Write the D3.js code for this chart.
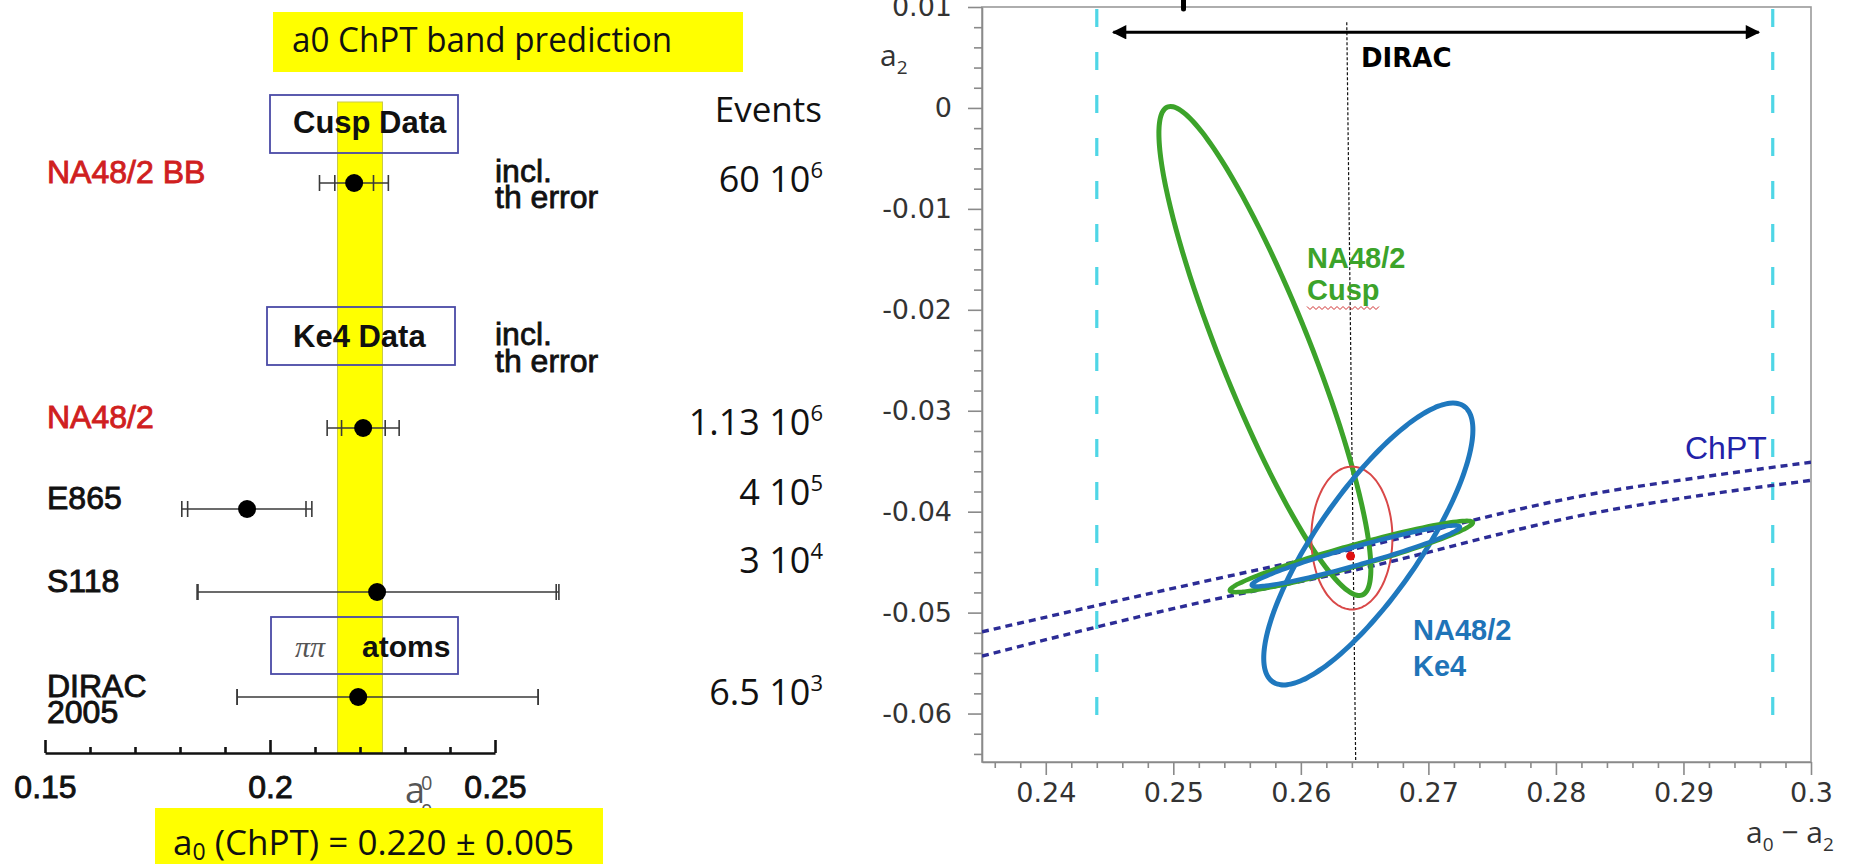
<!DOCTYPE html>
<html><head><meta charset="utf-8">
<script src="https://cdn.jsdelivr.net/npm/d3@7"></script>
<style>body{margin:0;background:#fff} svg{display:block}</style>
</head><body>
<svg id="chart" width="1876" height="864"></svg>
<script>
// ================= DATA : left panel (a0 measurements) =================
const experiments   = ["NA48/2 BB", "NA48/2", "E865", "S118", "DIRAC 2005"];
const a0Values      = [0.2187, 0.2207, 0.1949, 0.2238, 0.2196];
const statErrLo     = [0.0043, 0.0048, 0.0132, 0.0398, 0.0269];
const statErrHi     = [0.0043, 0.0049, 0.0131, 0.0398, 0.0400];
const totErrLo      = [0.0077, 0.0080, 0.0145, 0.0400, 0.0269];
const totErrHi      = [0.0076, 0.0080, 0.0144, 0.0404, 0.0400];
const labelColors   = ["red", "red", "black", "black", "black"];
const eventsMantissa = ["60", "1.13", "4", "3", "6.5"];
const eventsExponent = ["6", "6", "5", "4", "3"];
const sections      = ["Cusp Data", "Ke4 Data", "atoms"];
const chptA0 = 0.220, chptA0Err = 0.005;
const leftMajorTicks = [0.15, 0.2, 0.25];
const leftMinorTicks = [0.16, 0.17, 0.18, 0.19, 0.21, 0.22, 0.23, 0.24];

// ================= DATA : right panel (a0-a2 , a2 plane) =================
const rightXTicks = [0.24, 0.25, 0.26, 0.27, 0.28, 0.29, 0.3];
const rightYTicks = [0.01, 0, -0.01, -0.02, -0.03, -0.04, -0.05, -0.06];
const ellipseNames = ["NA48/2 Cusp", "Combined", "NA48/2 Ke4", "Cusp + ChPT", "Ke4 + ChPT"];
const ellipseCx  = [0.25718, 0.26400, 0.26529, 0.26396, 0.26431];
const ellipseCy  = [-0.02408, -0.04261, -0.04320, -0.04444, -0.04439];
const ellipseSx  = [0.00831, 0.00318, 0.00820, 0.00953, 0.00816];
const ellipseSy  = [0.02423, 0.00708, 0.01396, 0.00353, 0.00302];
const ellipseRho = [-0.89, 0.0, 0.81, 0.95, 0.95];
const bestFit = [0.2639, -0.0444];
const chptUpperX = [0.2350, 0.2521, 0.2638, 0.2835, 0.2913, 0.3000];
const chptUpperY = [-0.0519, -0.0470, -0.0438, -0.0381, -0.0366, -0.0351];
const chptLowerX = [0.2350, 0.2521, 0.2638, 0.2835, 0.2913, 0.3000];
const chptLowerY = [-0.0543, -0.0490, -0.0459, -0.0400, -0.0384, -0.0369];
const diracBand  = [0.2440, 0.2970];
const diracArrow = [0.2453, 0.2959];
const diracArrowY = 0.0075;
const centralLineX = [0.2636, 0.2643];

// ================= LAYOUT / STYLE =================
const svg = d3.select("#chart");
const SANS = "'Liberation Sans', Arial, sans-serif";
const ROUND = "'Open Sans', sans-serif";
const DV = "'DejaVu Sans', sans-serif";

// ---------- LEFT PANEL ----------
const xL = d3.scaleLinear().domain([0.15, 0.25]).range([45, 495]);
const axisYL = 753, bandTop = 102;
const rowY = d3.scaleOrdinal().domain(experiments).range([183, 428, 509, 592, 697]);
const eventsY = d3.scaleOrdinal().domain(experiments).range([192, 435, 505, 573, 705]);
const sectionBox = d3.scaleOrdinal().domain(sections)
  .range([{x:270,y:95,w:188,h:58}, {x:267,y:307,w:188,h:58}, {x:271,y:617,w:187,h:57}]);

const L = svg.append("g");

// top yellow box
L.append("rect").attr("x",273).attr("y",12).attr("width",470).attr("height",60).attr("fill","#ffff00");
L.append("text").attr("x",292).attr("y",52).attr("font-family",ROUND).attr("font-size",34)
  .attr("textLength",380).attr("lengthAdjust","spacingAndGlyphs").attr("fill","#111")
  .text("a0 ChPT band prediction");

// ChPT band
L.append("rect")
  .attr("x", xL(chptA0 - chptA0Err)).attr("y", bandTop)
  .attr("width", xL(chptA0 + chptA0Err) - xL(chptA0 - chptA0Err))
  .attr("height", axisYL - bandTop)
  .attr("fill", "#ffff00").attr("stroke", "#c9c94a").attr("stroke-width", 1);

// section boxes
sections.forEach(s => {
  const b = sectionBox(s);
  L.append("rect").attr("x",b.x).attr("y",b.y).attr("width",b.w).attr("height",b.h)
    .attr("fill","none").attr("stroke","#4a4aa6").attr("stroke-width",1.8);
});
L.append("text").attr("x",293).attr("y",133).attr("font-family",SANS).attr("font-weight","bold")
  .attr("font-size",31).attr("fill","#111").text("Cusp Data");
L.append("text").attr("x",293).attr("y",347).attr("font-family",SANS).attr("font-weight","bold")
  .attr("font-size",31).attr("fill","#111").text("Ke4 Data");
L.append("text").attr("x",295).attr("y",657).attr("font-family","'Liberation Serif', serif").attr("font-style","italic")
  .attr("font-size",30).attr("fill","#555").text("ππ");
L.append("text").attr("x",362).attr("y",657).attr("font-family",SANS).attr("font-weight","bold")
  .attr("font-size",30).attr("fill","#111").text("atoms");

// experiment labels
experiments.forEach((name, i) => {
  const col = labelColors[i] === "red" ? "#d01f1f" : "#111";
  const t = L.append("text").attr("x",47).attr("y",rowY(name)).attr("font-family",SANS)
    .attr("font-size",32).attr("fill", col).attr("stroke", col).attr("stroke-width", 0.9);
  if (name === "DIRAC 2005") {
    t.append("tspan").attr("x",47).text("DIRAC");
    t.append("tspan").attr("x",47).attr("dy",26).text("2005");
  } else t.text(name);
});

// incl. th error notes
[[182,208],[345,372]].forEach(([y1,y2]) => {
  L.append("text").attr("x",495).attr("y",y1).attr("font-family",SANS).attr("font-size",32)
    .attr("fill","#111").attr("stroke","#111").attr("stroke-width",0.8).text("incl.");
  L.append("text").attr("x",495).attr("y",y2).attr("font-family",SANS).attr("font-size",32)
    .attr("fill","#111").attr("stroke","#111").attr("stroke-width",0.8).text("th error");
});

// error bars and points
const eb = L.append("g").attr("stroke","#3a3a3a").attr("stroke-width",1.6).attr("fill","none");
experiments.forEach((name, i) => {
  const y = rowY(name), v = a0Values[i];
  eb.append("line").attr("x1",xL(v - totErrLo[i])).attr("x2",xL(v + totErrHi[i])).attr("y1",y).attr("y2",y);
  [v - totErrLo[i], v - statErrLo[i], v + statErrHi[i], v + totErrHi[i]].forEach(c => {
    eb.append("line").attr("x1",xL(c)).attr("x2",xL(c)).attr("y1",y-8).attr("y2",y+8);
  });
  L.append("circle").attr("cx",xL(v)).attr("cy",y).attr("r",9).attr("fill","#000");
});

// events column
L.append("text").attr("x",822).attr("y",122).attr("text-anchor","end").attr("font-family",ROUND)
  .attr("font-size",35).attr("fill","#111").text("Events");
experiments.forEach((name, i) => {
  const t = L.append("text").attr("x",823).attr("y",eventsY(name)).attr("text-anchor","end")
    .attr("font-family",ROUND).attr("font-size",36).attr("fill","#111");
  t.append("tspan").text(eventsMantissa[i] + " 10");
  t.append("tspan").attr("font-size",22).attr("dy",-14).text(eventsExponent[i]);
});

// left axis
const axL = L.append("g").attr("transform",`translate(0,${axisYL})`);
axL.call(d3.axisBottom(xL).tickValues(leftMajorTicks).tickFormat(d3.format("")).tickSizeInner(-13).tickSizeOuter(0).tickPadding(22));
axL.append("g").call(d3.axisBottom(xL).tickValues(leftMinorTicks).tickFormat("").tickSizeInner(-6).tickSizeOuter(0))
  .select(".domain").remove();
axL.selectAll("path,line").attr("stroke","#111").attr("stroke-width",2.6);
axL.selectAll("text").attr("font-family",SANS).attr("font-size",32).attr("fill","#111")
  .attr("stroke","#111").attr("stroke-width",0.9);

// a0 axis label
L.append("text").attr("x",405).attr("y",803).attr("font-family",ROUND).attr("font-size",36).attr("fill","#555").text("a");
L.append("text").attr("x",421).attr("y",790).attr("font-family",ROUND).attr("font-size",20).attr("fill","#555").text("0");
L.append("text").attr("x",421).attr("y",818).attr("font-family",ROUND).attr("font-size",20).attr("fill","#555").text("0");

// bottom yellow box
L.append("rect").attr("x",155).attr("y",808).attr("width",448).attr("height",56).attr("fill","#ffff00");
const bt = L.append("text").attr("x",173).attr("y",855).attr("font-family",ROUND).attr("font-size",35).attr("fill","#111");
bt.append("tspan").text("a");
bt.append("tspan").attr("font-size",23).attr("dy",5).text("0");
bt.append("tspan").attr("dy",-5).text(` (ChPT) = ${chptA0.toFixed(3)} ± ${chptA0Err.toFixed(3)}`);

// ---------- RIGHT PANEL ----------
const xR = d3.scaleLinear().domain([0.235, 0.3]).range([982, 1811]);
const yR = d3.scaleLinear().domain([-0.0648, 0.01]).range([762, 7]);
const R = svg.append("g");
R.append("clipPath").attr("id","plotclip").append("rect")
  .attr("x",982).attr("y",7).attr("width",829).attr("height",755);

// frame
R.append("rect").attr("x",982).attr("y",7).attr("width",829).attr("height",755)
  .attr("fill","none").attr("stroke","#9a9a9a").attr("stroke-width",1.6);

// axes
const minorX = d3.range(0.236, 0.3001, 0.002).filter(v => Math.abs(v*100 - Math.round(v*100)) > 1e-6);
const minorY = d3.range(-0.064, 0.0101, 0.002).filter(v => Math.abs(v*100 - Math.round(v*100)) > 1e-6);
const axB = R.append("g").attr("transform","translate(0,762)");
axB.call(d3.axisBottom(xR).tickValues(rightXTicks).tickFormat(d3.format("")).tickSizeInner(13).tickSizeOuter(0).tickPadding(8));
axB.append("g").call(d3.axisBottom(xR).tickValues(minorX).tickFormat("").tickSizeInner(6).tickSizeOuter(0)).select(".domain").remove();
const axLft = R.append("g").attr("transform","translate(982,0)");
axLft.call(d3.axisLeft(yR).tickValues(rightYTicks).tickFormat(d => d3.format("")(+d.toFixed(2))).tickSizeInner(14).tickSizeOuter(0).tickPadding(16));
axLft.append("g").call(d3.axisLeft(yR).tickValues(minorY).tickFormat("").tickSizeInner(8).tickSizeOuter(0)).select(".domain").remove();
R.selectAll(".tick line, .domain").attr("stroke","#8a8a8a").attr("stroke-width",1.6);
axB.selectAll("text").attr("font-family",DV).attr("font-size",27).attr("fill","#333");
axLft.selectAll("text").attr("font-family",DV).attr("font-size",27).attr("fill","#333").text(function(){return this.textContent.replace("−","-");});

// axis titles
const xt = R.append("text").attr("x",1746).attr("y",843).attr("font-family",ROUND).attr("font-size",30).attr("fill","#333");
xt.append("tspan").text("a");
xt.append("tspan").attr("font-size",19).attr("dy",8).text("0");
xt.append("tspan").attr("dy",-8).text(" − a");
xt.append("tspan").attr("font-size",19).attr("dy",8).text("2");
const yt = R.append("text").attr("x",880).attr("y",66).attr("font-family",ROUND).attr("font-size",30).attr("fill","#333");
yt.append("tspan").text("a");
yt.append("tspan").attr("font-size",19).attr("dy",8).text("2");

const P = R.append("g").attr("clip-path","url(#plotclip)");

// DIRAC band (cyan dashed)
diracBand.forEach(v => {
  P.append("line").attr("x1",xR(v)).attr("x2",xR(v)).attr("y1",yR(0.01)).attr("y2",yR(-0.0623))
    .attr("stroke","#4fd6e6").attr("stroke-width",3.2).attr("stroke-dasharray","18,25").attr("stroke-dashoffset",-2);
});

// central vertical dashed line
P.append("line").attr("x1",xR(centralLineX[0])).attr("x2",xR(centralLineX[1])).attr("y1",yR(0.0085)).attr("y2",yR(-0.0648))
  .attr("stroke","#111").attr("stroke-width",1.2).attr("stroke-dasharray","3,2");

// DIRAC arrow
const defs = svg.append("defs");
defs.append("marker").attr("id","arrR").attr("viewBox","0 0 10 10").attr("refX",9).attr("refY",5)
  .attr("markerWidth",5).attr("markerHeight",4.5).attr("orient","auto-start-reverse")
  .append("path").attr("d","M0,0 L10,5 L0,10 z").attr("fill","#000");
R.append("line").attr("x1",xR(diracArrow[0])).attr("x2",xR(diracArrow[1])).attr("y1",yR(diracArrowY)).attr("y2",yR(diracArrowY))
  .attr("stroke","#000").attr("stroke-width",3.2).attr("marker-start","url(#arrR)").attr("marker-end","url(#arrR)");
R.append("text").attr("x",1361).attr("y",67).attr("font-family",DV).attr("font-weight","bold").attr("font-size",26).attr("fill","#000").text("DIRAC");
// cut-off annotation mark at the top
R.append("line").attr("x1",xR(0.2508)).attr("x2",xR(0.2508)).attr("y1",-4).attr("y2",9)
  .attr("stroke","#000").attr("stroke-width",5).attr("stroke-linecap","round");

// ChPT band lines
const lineGen = d3.line().x(d => xR(d[0])).y(d => yR(d[1])).curve(d3.curveMonotoneX);
[[chptUpperX, chptUpperY], [chptLowerX, chptLowerY]].forEach(([xs, ys]) => {
  P.append("path").attr("d", lineGen(xs.map((x,i) => [x, ys[i]])))
    .attr("fill","none").attr("stroke","#2c2c96").attr("stroke-width",3.4).attr("stroke-dasharray","7,5");
});
R.append("text").attr("x",1685).attr("y",459).attr("font-family",SANS).attr("font-size",32).attr("fill","#2222a8").text("ChPT");

// ellipses
const ellStyle = {
  "NA48/2 Cusp": {c:"#3ca32a", w:5},
  "Combined":    {c:"#d94848", w:2},
  "NA48/2 Ke4":  {c:"#1f78be", w:5},
  "Cusp + ChPT": {c:"#3ca32a", w:4.5},
  "Ke4 + ChPT":  {c:"#1f78be", w:4.5}
};
const ellLine = d3.line().x(d => xR(d[0])).y(d => yR(d[1])).curve(d3.curveCardinalClosed);
ellipseNames.forEach((name, i) => {
  const r = ellipseRho[i], q = Math.sqrt(1 - r*r);
  const pts = d3.range(0, 360, 3).map(deg => {
    const t = deg * Math.PI / 180;
    return [ellipseCx[i] + ellipseSx[i]*Math.cos(t),
            ellipseCy[i] + ellipseSy[i]*(r*Math.cos(t) + q*Math.sin(t))];
  });
  P.append("path").attr("d", ellLine(pts)).attr("fill","none")
    .attr("stroke", ellStyle[name].c).attr("stroke-width", ellStyle[name].w);
});
P.append("circle").attr("cx",xR(bestFit[0])).attr("cy",yR(bestFit[1])).attr("r",4.5).attr("fill","#e01010");

// ellipse labels
const g1 = R.append("text").attr("font-family",SANS).attr("font-weight","bold").attr("font-size",29).attr("fill","#3ca32a");
g1.append("tspan").attr("x",1307).attr("y",268).text("NA48/2");
g1.append("tspan").attr("x",1307).attr("y",300).text("Cusp");
const wav = d3.range(0, 25).map(k => [1307 + k*3, 308 + (k % 2 ? 1.5 : -1.5)]);
R.append("path").attr("d", d3.line()(wav)).attr("fill","none").attr("stroke","#d03030").attr("stroke-width",1);
const b1 = R.append("text").attr("font-family",SANS).attr("font-weight","bold").attr("font-size",29).attr("fill","#1f74b8");
b1.append("tspan").attr("x",1413).attr("y",640).text("NA48/2");
b1.append("tspan").attr("x",1413).attr("y",676).text("Ke4");
</script>
</body></html>
